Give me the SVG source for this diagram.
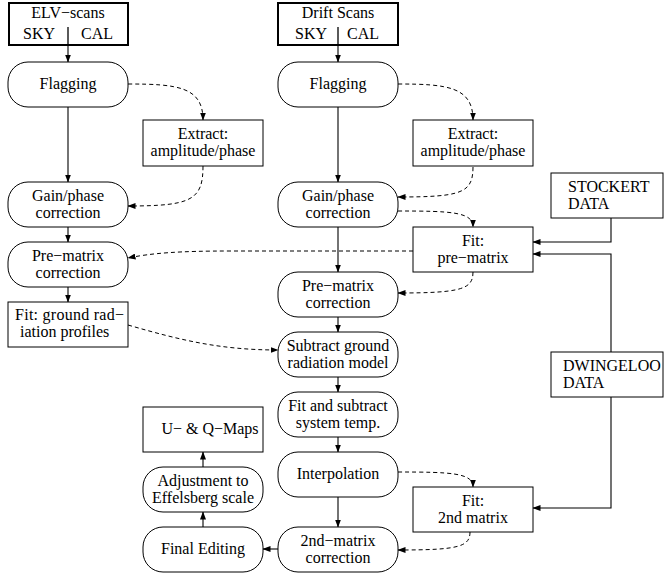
<svg xmlns="http://www.w3.org/2000/svg" width="666" height="577" viewBox="0 0 666 577">
<style>
text{font-family:"Liberation Serif","Times New Roman",serif;font-size:16px;fill:#000}
.c{text-anchor:middle}
.nd{fill:#fff;stroke:#000;stroke-width:1}
.thick{fill:#fff;stroke:#000;stroke-width:2}
.sl{fill:none;stroke:#000;stroke-width:1.1;marker-end:url(#ah)}
.ds{fill:none;stroke:#000;stroke-width:1;stroke-dasharray:4 3;marker-end:url(#ah)}
.dv{stroke:#000;stroke-width:1.3}
</style>
<defs>
<marker id="ah" markerUnits="userSpaceOnUse" markerWidth="8" markerHeight="6" refX="7.5" refY="3" orient="auto">
<path d="M0,0 L8,3 L0,6 z" fill="#000"/>
</marker>
</defs>
<rect width="666" height="577" fill="#fff"/>

<g id="connectors">
<line class="sl" x1="68" y1="45" x2="68" y2="62"/>
<line class="sl" x1="68" y1="107" x2="68" y2="182"/>
<line class="sl" x1="68" y1="227" x2="68" y2="242"/>
<line class="sl" x1="68" y1="287" x2="68" y2="302"/>
<line class="sl" x1="338" y1="45" x2="338" y2="62"/>
<line class="sl" x1="338" y1="107" x2="338" y2="182"/>
<line class="sl" x1="338" y1="227" x2="338" y2="272"/>
<line class="sl" x1="338" y1="317" x2="338" y2="332"/>
<line class="sl" x1="338" y1="377" x2="338" y2="392"/>
<line class="sl" x1="338" y1="437" x2="338" y2="452"/>
<line class="sl" x1="338" y1="497" x2="338" y2="527"/>
<line class="sl" x1="278" y1="549" x2="263" y2="549"/>
<line class="sl" x1="203" y1="527" x2="203" y2="512"/>
<line class="sl" x1="203" y1="467" x2="203" y2="452"/>
<path class="sl" d="M611,218 V242 H533"/>
<path class="sl" d="M611,352 V254 H533"/>
<path class="sl" d="M611,397 V508 H533"/>
<path class="ds" d="M128,84 C178,84 203,87 203,120"/>
<path class="ds" d="M203,166 C203,200 192,206 128,206"/>
<path class="ds" d="M398,84 C448,84 473,87 473,120"/>
<path class="ds" d="M473,167 C473,193 462,197 398,197"/>
<path class="ds" d="M398,211 C452,211 473,212 473,227"/>
<path class="ds" d="M413,251 L230,251 C180,251 152,253 128,258"/>
<path class="ds" d="M473,272 C473,289 462,293 398,293"/>
<path class="ds" d="M128,325 C180,340 220,350 278,350"/>
<path class="ds" d="M398,472 C452,472 473,473 473,487"/>
<path class="ds" d="M470,532 C470,547 458,550 398,550"/>
</g>

<g id="elv-scans">
<rect class="thick" x="9" y="3" width="119" height="42"/>
<text class="c" x="68" y="18">ELV−scans</text>
<text x="23" y="39">SKY</text>
<text x="81" y="39">CAL</text>
<line class="dv" x1="68" y1="27" x2="68" y2="45"/>
</g>
<g id="drift-scans">
<rect class="thick" x="278" y="3" width="120" height="42"/>
<text class="c" x="338" y="18">Drift Scans</text>
<text x="295" y="39">SKY</text>
<text x="347" y="39">CAL</text>
<line class="dv" x1="338" y1="27" x2="338" y2="45"/>
</g>

<g id="flagging-elv">
<rect class="nd" x="8" y="62" width="120" height="45" rx="20" ry="20"/>
<text class="c" x="68" y="89">Flagging</text>
</g>
<g id="extract-elv">
<rect class="nd" x="143" y="120" width="120" height="46"/>
<text class="c" x="203" y="139">Extract:</text>
<text class="c" x="203" y="156">amplitude/phase</text>
</g>
<g id="gainphase-elv">
<rect class="nd" x="8" y="182" width="120" height="45" rx="20" ry="20"/>
<text class="c" x="68" y="201">Gain/phase</text>
<text class="c" x="68" y="218">correction</text>
</g>
<g id="prematrix-elv">
<rect class="nd" x="8" y="242" width="120" height="45" rx="20" ry="20"/>
<text class="c" x="68" y="261">Pre−matrix</text>
<text class="c" x="68" y="278">correction</text>
</g>
<g id="fit-ground">
<rect class="nd" x="8" y="302" width="120" height="45"/>
<text x="15" y="320" textLength="109" lengthAdjust="spacing">Fit: ground rad−</text>
<text x="20" y="337">iation profiles</text>
</g>

<g id="flagging-drift">
<rect class="nd" x="278" y="62" width="120" height="45" rx="20" ry="20"/>
<text class="c" x="338" y="89">Flagging</text>
</g>
<g id="extract-drift">
<rect class="nd" x="413" y="120" width="120" height="46"/>
<text class="c" x="473" y="139">Extract:</text>
<text class="c" x="473" y="156">amplitude/phase</text>
</g>
<g id="gainphase-drift">
<rect class="nd" x="278" y="182" width="120" height="45" rx="20" ry="20"/>
<text class="c" x="338" y="201">Gain/phase</text>
<text class="c" x="338" y="218">correction</text>
</g>
<g id="stockert">
<rect class="nd" x="551" y="173" width="112" height="45"/>
<text x="568" y="192">STOCKERT</text>
<text x="568" y="209">DATA</text>
</g>
<g id="fit-prematrix">
<rect class="nd" x="413" y="227" width="120" height="45"/>
<text class="c" x="473" y="246">Fit:</text>
<text class="c" x="473" y="263">pre−matrix</text>
</g>
<g id="prematrix-drift">
<rect class="nd" x="278" y="272" width="120" height="45" rx="20" ry="20"/>
<text class="c" x="338" y="291">Pre−matrix</text>
<text class="c" x="338" y="308">correction</text>
</g>
<g id="subtract-ground">
<rect class="nd" x="278" y="332" width="120" height="45" rx="20" ry="20"/>
<text class="c" x="338" y="351">Subtract ground</text>
<text class="c" x="338" y="368">radiation model</text>
</g>
<g id="dwingeloo">
<rect class="nd" x="551" y="352" width="112" height="45"/>
<text x="563" y="371">DWINGELOO</text>
<text x="563" y="388">DATA</text>
</g>
<g id="fit-systemp">
<rect class="nd" x="278" y="392" width="120" height="45" rx="20" ry="20"/>
<text class="c" x="338" y="411">Fit and subtract</text>
<text class="c" x="338" y="428">system temp.</text>
</g>
<g id="interpolation">
<rect class="nd" x="278" y="452" width="120" height="45" rx="20" ry="20"/>
<text class="c" x="338" y="479">Interpolation</text>
</g>
<g id="fit-2nd">
<rect class="nd" x="413" y="487" width="120" height="45"/>
<text class="c" x="473" y="506">Fit:</text>
<text class="c" x="473" y="523">2nd matrix</text>
</g>
<g id="second-matrix">
<rect class="nd" x="278" y="527" width="120" height="45" rx="20" ry="20"/>
<text class="c" x="338" y="546">2nd−matrix</text>
<text class="c" x="338" y="563">correction</text>
</g>
<g id="final-editing">
<rect class="nd" x="143" y="527" width="120" height="45" rx="20" ry="20"/>
<text class="c" x="203" y="554">Final Editing</text>
</g>
<g id="adjustment">
<rect class="nd" x="143" y="467" width="120" height="45" rx="20" ry="20"/>
<text class="c" x="203" y="486">Adjustment to</text>
<text class="c" x="203" y="503">Effelsberg scale</text>
</g>
<g id="uq-maps">
<rect class="nd" x="143" y="407" width="120" height="45"/>
<text class="c" x="210" y="434">U− &amp; Q−Maps</text>
</g>
</svg>
